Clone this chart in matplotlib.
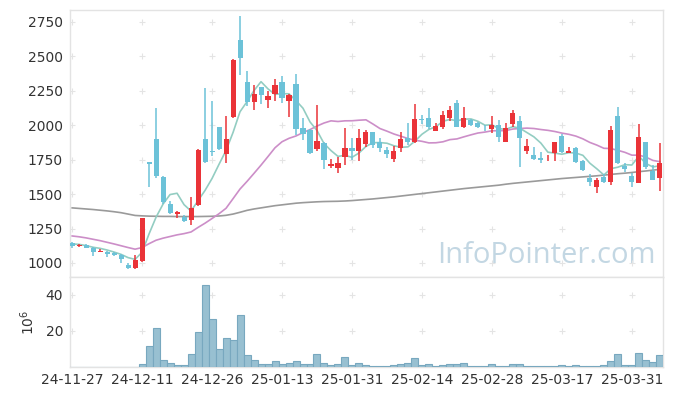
import numpy as np
import pandas as pd
import matplotlib
matplotlib.use("Agg")
from matplotlib import pyplot as plt

# daily OHLC (KRW), 85 trading days 24-11-27 .. 25-04-04
opens = [1145, 1120, 1130, 1110, 1082, 1080, 1075, 1060, 985, 962,
         1017, 1730, 1898, 1625, 1425, 1352, 1335, 1312, 1421, 1900,
         1812, 1985, 1790, 2058, 2619, 2316, 2171, 2275, 2183, 2227,
         2316, 2176, 2300, 1982, 1966, 1828, 1870, 1705, 1688, 1772,
         1837, 1813, 1864, 1949, 1876, 1820, 1753, 1833, 1905, 1881,
         2045, 2051, 1961, 1990, 2051, 2159, 1985, 2038, 2019, 1973,
         1971, 2002, 1881, 2009, 2031, 1813, 1784, 1765, 1752, 1801,
         1922, 1801, 1833, 1740, 1615, 1554, 1622, 1590, 2067, 1704,
         1632, 1583, 1876, 1670, 1620]
closes = [1125, 1130, 1110, 1080, 1085, 1065, 1055, 1027, 962, 1020,
          1325, 1722, 1632, 1440, 1365, 1372, 1308, 1399, 1820, 1735,
          1805, 1825, 1898, 2474, 2490, 2171, 2227, 2220, 2212, 2292,
          2198, 2220, 1973, 1935, 1796, 1886, 1748, 1716, 1724, 1833,
          1815, 1905, 1954, 1860, 1837, 1791, 1813, 1898, 1876, 2046,
          2040, 1990, 1995, 2075, 2111, 1990, 2051, 2002, 1990, 1970,
          2002, 1912, 1978, 2087, 1910, 1849, 1755, 1750, 1758, 1876,
          1808, 1813, 1736, 1675, 1590, 1603, 1590, 1966, 1728, 1682,
          1590, 1912, 1700, 1603, 1724]
highs = [1150, 1140, 1135, 1115, 1100, 1085, 1080, 1065, 1000, 1060,
         1330, 1735, 2125, 1630, 1450, 1378, 1345, 1477, 1825, 2268,
         2178, 1990, 2067, 2480, 2793, 2396, 2292, 2280, 2251, 2334,
         2358, 2225, 2372, 2051, 1970, 2145, 1875, 1753, 1772, 1982,
         1905, 1970, 1966, 1952, 1905, 1845, 1849, 1954, 2014, 2151,
         2075, 2127, 2014, 2106, 2142, 2183, 2135, 2045, 2022, 2002,
         2067, 2038, 2014, 2111, 2067, 1898, 1845, 1808, 1785, 1880,
         1940, 1845, 1840, 1745, 1646, 1620, 1646, 1995, 2130, 1724,
         1650, 2009, 1880, 1711, 1870]
lows = [1110, 1115, 1105, 1050, 1080, 1045, 1050, 1000, 955, 955,
        1010, 1555, 1615, 1430, 1355, 1325, 1300, 1276, 1415, 1725,
        1775, 1820, 1724, 2050, 2365, 2140, 2111, 2154, 2123, 2176,
        2162, 2058, 1929, 1893, 1790, 1815, 1680, 1692, 1651, 1711,
        1748, 1740, 1840, 1833, 1808, 1765, 1736, 1804, 1857, 1869,
        2007, 1971, 1958, 1971, 2031, 1985, 1980, 1995, 1978, 1961,
        1942, 1881, 1878, 1990, 1700, 1789, 1750, 1724, 1738, 1740,
        1800, 1798, 1724, 1668, 1561, 1510, 1578, 1566, 1720, 1663,
        1554, 1580, 1680, 1600, 1525]
# volume in millions of shares
volumes = [0.1, 0.1, 0.1, 0.1, 0.1, 0.1, 0.1, 0.1, 0.1, 0.1,
           1.7, 11.8, 21.4, 4.1, 2.2, 1.1, 1.1, 7.3, 19.7, 45.7,
           26.4, 10.1, 16.3, 15.2, 28.7, 6.7, 3.9, 1.7, 1.7, 3.4,
           1.7, 2.2, 3.4, 1.7, 1.7, 7.3, 2.2, 1.1, 1.7, 5.4,
           0.9, 2.1, 0.9, 0.4, 0.4, 0.4, 0.9, 1.5, 2.1, 4.9,
           0.9, 1.5, 0.4, 0.9, 1.5, 1.5, 2.1, 0.4, 0.4, 0.4,
           1.5, 0.4, 0.4, 1.5, 1.5, 0.4, 0.4, 0.4, 0.4, 0.4,
           0.9, 0.4, 0.9, 0.4, 0.4, 0.4, 0.9, 3.4, 7.1, 0.9,
           0.9, 7.7, 3.9, 2.8, 6.6]

# moving-average values before enough closes are on screen
ma5_head = [1138, 1135, 1126, 1114]
ma20_head = [1196, 1190, 1182, 1172, 1162, 1150, 1138, 1125, 1112, 1100,
             1112, 1140, 1165, 1180, 1192, 1204, 1213, 1225, 1258]
# long moving average (needs history before the window)
ma120 = [1400, 1396, 1392, 1388, 1383, 1378, 1372, 1365, 1355, 1345,
         1342, 1340, 1339, 1338, 1338, 1337, 1337, 1337, 1337, 1338,
         1339, 1341, 1346, 1355, 1368, 1382, 1392, 1400, 1408, 1416,
         1422, 1428, 1434, 1438, 1441, 1444, 1446, 1447, 1448, 1450,
         1453, 1457, 1461, 1465, 1470, 1475, 1480, 1486, 1492, 1498,
         1504, 1510, 1516, 1522, 1528, 1534, 1540, 1545, 1550, 1555,
         1560, 1565, 1572, 1578, 1583, 1588, 1593, 1598, 1603, 1608,
         1613, 1617, 1621, 1625, 1629, 1633, 1638, 1643, 1648, 1652,
         1657, 1663, 1668, 1674, 1680]

tick_labels = ['24-11-27', '24-12-11', '24-12-26', '25-01-13', '25-01-31',
               '25-02-14', '25-02-28', '25-03-17', '25-03-31']
price_ticks = [1000, 1250, 1500, 1750, 2000, 2250, 2500, 2750]
vol_ticks = [20, 40]

o = np.array(opens, float)
c = np.array(closes, float)
h = np.array(highs, float)
l = np.array(lows, float)
x = np.arange(len(o))

ma5 = pd.Series(c).rolling(5).mean().to_numpy()
ma5[:4] = ma5_head
ma20 = pd.Series(c).rolling(20).mean().to_numpy()
ma20[:19] = ma20_head

UP = '#ea3338'
DOWN = '#6cc2d8'
FRAME = '#e3e3e3'
TXT = '#333333'

fig = plt.figure(figsize=(6.73, 3.96), dpi=100)
ax = fig.add_axes([70/673, 119/396, 593/673, 267/396])
axv = fig.add_axes([70/673, 29/396, 593/673, 90/396], sharex=ax)

up = c >= o
col = np.where(up, UP, DOWN)
body_lo = np.minimum(o, c)
body_h = np.maximum(np.abs(c - o), 6)

ax.plot(x, ma120, color='#9a9a9a', lw=1.2, zorder=2)
ax.plot(x, ma20, color='#cc8ec8', lw=1.2, zorder=2)
ax.plot(x, ma5, color='#93cdc2', lw=1.2, zorder=2)
ax.vlines(x, l, h, colors=col, lw=1.1, zorder=3)
ax.bar(x, body_h, bottom=body_lo, width=0.72, color=col, lw=0, zorder=4)

axv.bar(x, volumes, width=1.0, color='#98c0d1', edgecolor='#78a8bf', lw=0.8, zorder=3)

# cross marks at grid intersections
xt = np.arange(0, 81, 10)
for a, yt in ((ax, price_ticks), (axv, vol_ticks)):
    gx, gy = np.meshgrid(xt, yt)
    a.plot(gx.ravel(), gy.ravel(), ls='none', marker='+', ms=5, mew=0.8,
           color='#e4e4e4', zorder=1)

ax.set_xlim(-0.3, 84.45)
ax.set_ylim(898, 2837)
axv.set_ylim(0, 50)

ax.set_yticks(price_ticks)
axv.set_yticks(vol_ticks)
axv.set_xticks(xt)
axv.set_xticklabels(tick_labels)
ax.tick_params(axis='x', labelbottom=False, length=0)
for a in (ax, axv):
    a.tick_params(length=0, labelsize=10, colors=TXT, pad=5)
    for s in a.spines.values():
        s.set_color(FRAME)
        s.set_linewidth(1)
axv.tick_params(axis='x', pad=4)
axv.set_ylabel('$10^6$', fontsize=10, color=TXT, labelpad=6)

ax.text(0.804, 0.08, 'InfoPointer.com', transform=ax.transAxes, ha='center',
        va='center', fontsize=21, color='#c3d7e3', family='Open Sans', zorder=0)

fig.savefig('out.png', dpi=100, facecolor='white')
